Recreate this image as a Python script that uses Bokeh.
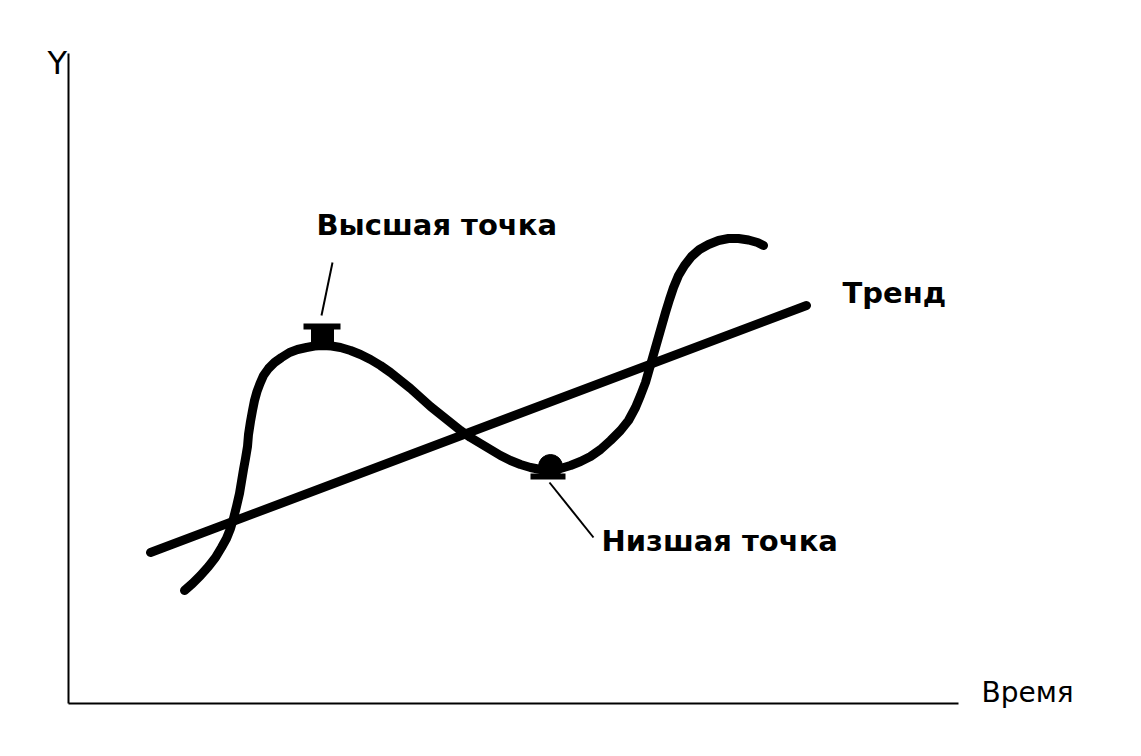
from bokeh.plotting import figure
from bokeh.models import Range1d, FixedTicker
from bokeh.core.properties import value
from bokeh.embed import file_html
from bokeh.resources import INLINE

# Cycle curve (time, value)
cycle_x = [11.6, 12.4, 13.2, 14.0, 14.7, 15.3, 15.8, 16.2, 16.5, 16.8, 17.1, 17.3,
           17.5, 17.7, 17.9, 18.0, 18.2, 18.4, 18.6, 18.85, 19.15, 19.5, 20.0, 20.6,
           21.3, 22.1, 22.9, 23.8, 24.6, 25.4, 26.3, 27.2, 28.2, 29.2, 30.2, 31.2,
           32.2, 33.2, 34.2, 35.2, 36.2, 37.2, 38.2, 39.2, 40.2, 41.2, 42.2, 43.2,
           44.2, 45.2, 46.2, 47.2, 48.2, 49.2, 50.2, 51.2, 52.2, 53.2, 54.2, 55.2,
           56.0, 56.7, 57.2, 57.7, 58.1, 58.5, 58.9, 59.3, 59.7, 60.1, 60.5, 61.0,
           61.6, 62.3, 63.1, 64.0, 65.0, 66.0, 67.0, 68.0, 68.9, 69.5]
cycle_y = [11.3, 12.0, 12.8, 13.7, 14.6, 15.6, 16.5, 17.5, 18.5, 19.7, 21.0, 22.2,
           23.4, 24.5, 25.7, 26.9, 28.2, 29.3, 30.3, 31.2, 32.0, 32.8, 33.5, 34.1,
           34.6, 35.1, 35.4, 35.6, 35.75, 35.8, 35.75, 35.6, 35.3, 34.9, 34.4, 33.8,
           33.1, 32.3, 31.5, 30.6, 29.7, 28.9, 28.1, 27.3, 26.6, 26.0, 25.4, 24.8,
           24.3, 23.9, 23.6, 23.4, 23.35, 23.5, 23.8, 24.2, 24.7, 25.4, 26.3, 27.3,
           28.3, 29.6, 30.8, 32.1, 33.5, 34.9, 36.3, 37.7, 39.1, 40.4, 41.6, 42.8,
           43.8, 44.7, 45.4, 45.9, 46.3, 46.5, 46.5, 46.35, 46.1, 45.8]

# Trend line
trend_x = [8.2, 73.8]
trend_y = [15.1, 39.8]

# High point marker
high_bar_x = [23.5, 27.2]
high_bar_y = [37.7, 37.7]
high_block = [24.3, 26.5, 35.7, 37.6]   # left, right, bottom, top
high_leader_x = [26.4, 25.3]
high_leader_y = [44.1, 38.8]

# Low point marker
low_x = [48.2]
low_y = [23.7]
low_bar_x = [46.2, 49.7]
low_bar_y = [22.7, 22.7]
low_leader_x = [48.1, 52.5]
low_leader_y = [22.1, 16.6]

# Text labels
label_texts = ["Высшая точка", "Низшая точка", "Тренд"]
label_x = [24.8, 53.3, 77.4]
label_y = [47.9, 16.3, 41.1]
axis_texts = ["Y", "Время"]
axis_x = [-2.1, 91.3]
axis_y = [64.1, 1.1]

# Axis extents
x_axis_end = 89.0
y_axis_end = 65.0

p = figure(width=1125, height=740, output_backend="svg", toolbar_location=None,
           x_range=Range1d(-6.8, 105.7), y_range=Range1d(-3.7, 70.3),
           min_border=0)
p.outline_line_color = None
p.xgrid.visible = False
p.ygrid.visible = False
p.background_fill_color = "white"
p.border_fill_color = "white"

for ax in (p.xaxis, p.yaxis):
    ax.ticker = FixedTicker(ticks=[])
    ax.fixed_location = 0
    ax.axis_line_width = 2
    ax.axis_line_color = "black"
    ax.major_tick_line_color = None
    ax.minor_tick_line_color = None
    ax.major_label_text_color = None
p.xaxis.bounds = (0, x_axis_end)
p.yaxis.bounds = (0, y_axis_end)

p.line(trend_x, trend_y, line_width=9, color="black", line_cap="round")
p.line(cycle_x, cycle_y, line_width=9, color="black", line_cap="round", line_join="round")

# high marker
p.line(high_bar_x, high_bar_y, line_width=6, color="black")
p.quad(left=high_block[0], right=high_block[1], bottom=high_block[2], top=high_block[3],
       color="black")
p.line(high_leader_x, high_leader_y, line_width=2, color="black")

# low marker
p.scatter(low_x, low_y, size=24, color="black")
p.line(low_bar_x, low_bar_y, line_width=6, color="black")
p.line(low_leader_x, low_leader_y, line_width=2, color="black")

p.text(label_x, label_y, text=label_texts, text_font=value("DejaVu Sans"),
       text_font_style="bold", text_font_size="29px", text_color="black",
       text_baseline="alphabetic", text_align="left")
p.text(axis_x, axis_y, text=axis_texts, text_font=value("DejaVu Sans"),
       text_font_size=["32px", "28px"], text_color="black",
       text_baseline="alphabetic", text_align="left")

open("out.html", "w").write(file_html(p, INLINE))
